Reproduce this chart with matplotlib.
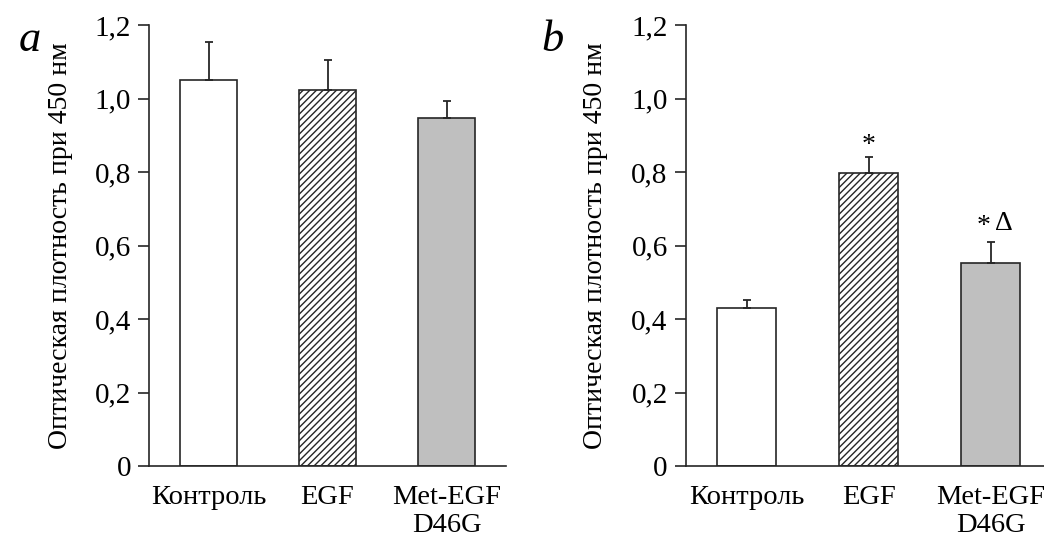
import matplotlib
matplotlib.use("Agg")
import matplotlib.pyplot as plt
import numpy as np

categories = ["Контроль", "EGF", "Met-EGF\nD46G"]
values_a = [1.050, 1.023, 0.946]
errors_a = [0.105, 0.082, 0.048]
values_b = [0.431, 0.797, 0.553]
errors_b = [0.021, 0.043, 0.057]
yticks = [0, 0.2, 0.4, 0.6, 0.8, 1.0, 1.2]
ytick_labels = ["0", "0,2", "0,4", "0,6", "0,8", "1,0", "1,2"]
ylabel = "Оптическая плотность при 450 нм"

plt.rcParams['font.family'] = ['Liberation Serif', 'DejaVu Serif']
plt.rcParams['hatch.linewidth'] = 1.0

fig = plt.figure(figsize=(10.44, 5.37), dpi=100)
W, H = 1044, 537
ax_a = fig.add_axes([149 / W, (537 - 466) / H, 357 / W, 441 / H])
ax_b = fig.add_axes([685.7 / W, (537 - 466) / H, 366 / W, 441 / H])

faces = ["white", "white", "#bfbfbf"]
hatches = [None, "/////", None]
edge = "#262626"

def draw(ax, vals, errs, lx):
    x = np.arange(len(categories))
    for i in range(len(vals)):
        ax.bar(x[i], vals[i], width=0.48, color=faces[i], edgecolor=edge,
               linewidth=1.2, hatch=hatches[i], zorder=2)
        ax.errorbar(x[i], vals[i], yerr=[[0], [errs[i]]], fmt="none",
                    ecolor=edge, elinewidth=1.3, capsize=3, capthick=1.3, zorder=3)
    ax.set_xlim(-0.5, 2.5)
    ax.set_ylim(0, 1.2)
    ax.set_yticks(yticks)
    ax.set_yticklabels(ytick_labels, fontsize=21)
    ax.set_xticks(x)
    ax.set_xticklabels(categories, fontsize=20.5, linespacing=1.12)
    ax.tick_params(axis="x", length=0, pad=14)
    ax.tick_params(axis="y", direction="out", length=8, width=1.2, color=edge, pad=5)
    for s in ["top", "right"]:
        ax.spines[s].set_visible(False)
    for s in ["left", "bottom"]:
        ax.spines[s].set_color(edge)
        ax.spines[s].set_linewidth(1.2)
    ax.set_ylabel(ylabel, fontsize=20)
    ax.yaxis.set_label_coords(lx, 0.5)
    ax.set_facecolor("none")

draw(ax_a, values_a, errors_a, -0.213)
draw(ax_b, values_b, errors_b, -0.212)

# significance marks above panel b bars
ax_b.text(1, values_b[1] + errors_b[1] + 0.015, "*", ha="center", va="baseline", fontsize=20)
ax_b.text(2 - 0.06, values_b[2] + errors_b[2] + 0.025, "*", ha="center", va="baseline", fontsize=20)
ax_b.text(2 + 0.105, values_b[2] + errors_b[2] + 0.033, "\u0394", ha="center", va="baseline", fontsize=20)

fig.text(30 / W, 1 - 40 / H, "a", fontsize=32, style="italic", ha="center", va="center")
fig.text(552 / W, 1 - 40 / H, "b", fontsize=32, style="italic", ha="center", va="center")

fig.savefig("out.png", dpi=100)
